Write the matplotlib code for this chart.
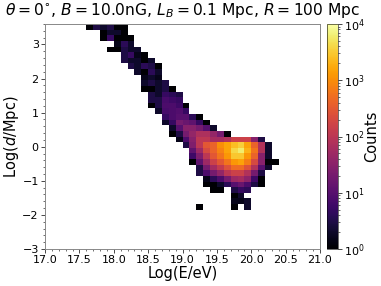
import numpy as np
import matplotlib
matplotlib.use("Agg")
import matplotlib.pyplot as plt
from matplotlib.colors import LogNorm
from matplotlib.ticker import AutoMinorLocator, LogLocator, NullFormatter

# Histogram rows, top of the plot first: (first energy bin, counts)
row_00 = (6, [1, 3, 2, 3, 1, 1])
row_01 = (8, [1, 2, 2, 1])
row_02 = (8, [1, 5, 1, 1, 1])
row_03 = (10, [1.5, 4, 2])
row_04 = (9, [1, 1, 3, 2, 2])
row_05 = (11, [3, 5, 1.5, 1])
row_06 = (11, [3, 2, 2, 1, 2])
row_07 = (12, [3, 2, 4, 3, 1])
row_08 = (13, [2, 1, 4, 2])
row_09 = (14, [1.5, 2, 1.5])
row_10 = (14, [2, 3, 2, 3])
row_11 = (14, [1, 1, 2, 3, 1])
row_12 = (15, [3, 2, 5, 4, 3])
row_13 = (15, [3, 3, 7, 6, 5])
row_14 = (15, [1, 3, 8, 8, 6, 1])
row_15 = (16, [2, 7, 8, 9, 5])
row_16 = (17, [5, 8, 10, 10, 4, 1])
row_17 = (17, [2, 5, 20, 15, 12, 5, 1])
row_18 = (18, [2, 10, 30, 30, 20, 10, 2])
row_19 = (18, [1, 3, 20, 40, 70, 70, 40, 20, 1])
row_20 = (19, [1.5, 8, 30, 100, 100, 60, 60, 80, 150, 150, 150, 30, 3])
row_21 = (20, [3, 25, 100, 300, 400, 1000, 1500, 2500, 3500, 1500, 400, 80, 2])
row_22 = (21, [12, 50, 200, 400, 800, 1500, 4000, 6000, 2000, 600, 80, 2])
row_23 = (21, [6, 25, 100, 300, 600, 1200, 3000, 3000, 1200, 400, 30, 2])
row_24 = (21, [1, 12, 50, 150, 300, 600, 1200, 1500, 700, 200, 30, 1, 1])
row_25 = (22, [3, 20, 60, 120, 250, 500, 500, 250, 80, 10, 2])
row_26 = (22, [3, 8, 20, 40, 100, 150, 150, 80, 20, 3])
row_27 = (23, [1.5, 4, 8, 20, 50, 60, 35, 6, 1])
row_28 = (23, [1, 1, 2, 4, 10, 15, 8, 3, 1])
row_29 = (24, [1, 1, 0, 3, 5, 4])
row_30 = (27, [1, 2])
row_31 = (27, [1.5, 1.5, 2])
row_32 = (22, [1, 0, 0, 0, 0, 1, 0, 2])
rows = [row_00, row_01, row_02, row_03, row_04, row_05, row_06, row_07, row_08,
        row_09, row_10, row_11, row_12, row_13, row_14, row_15, row_16, row_17,
        row_18, row_19, row_20, row_21, row_22, row_23, row_24, row_25, row_26,
        row_27, row_28, row_29, row_30, row_31, row_32]

x_ticks = [17.0, 17.5, 18.0, 18.5, 19.0, 19.5, 20.0, 20.5, 21.0]
y_ticks = [-3, -2, -1, 0, 1, 2, 3]
title = r"$\theta=0^{\circ}$, $B=10.0$nG, $L_B=0.1$ Mpc, $R=100$ Mpc"

n_bins = 40
x_edges = np.linspace(17.0, 21.0, n_bins + 1)
y_edges = np.linspace(-3.0, 3.6, n_bins + 1)
counts = np.zeros((n_bins, n_bins))
for r, (start, vals) in enumerate(rows):
    counts[n_bins - 1 - r, start:start + len(vals)] = vals
counts = np.ma.masked_less_equal(counts, 0)

W, H = 381, 286
fig = plt.figure(figsize=(W / 100, H / 100), dpi=100)
ax = fig.add_axes([45 / W, 1 - 249 / H, 275 / W, 225 / H])
mesh = ax.pcolormesh(x_edges, y_edges, counts, cmap="inferno",
                     norm=LogNorm(vmin=1, vmax=1e4))
ax.set_xlim(17, 21)
ax.set_ylim(-3, 3.6)
ax.set_xticks(x_ticks)
ax.set_xticklabels([f"{v:.1f}" for v in x_ticks])
ax.set_yticks(y_ticks)
ax.xaxis.set_minor_locator(AutoMinorLocator(5))
ax.yaxis.set_minor_locator(AutoMinorLocator(5))
ax.tick_params(which="major", length=3, width=0.5, labelsize=8, pad=1.5)
ax.tick_params(which="minor", length=1.6, width=0.4)
for s in ax.spines.values():
    s.set_linewidth(0.7)
    s.set_color("#888888")
ax.set_xlabel("Log(E/eV)", fontsize=10.5, labelpad=0.5)
ax.set_ylabel("Log($d$/Mpc)", fontsize=10.5, labelpad=1)
fig.text(182.5 / W, 1 - 14.5 / H, title, fontsize=11.2, ha="center", va="baseline")

cax = fig.add_axes([327 / W, 1 - 249 / H, 11 / W, 225 / H])
cb = fig.colorbar(mesh, cax=cax)
cb.outline.set_linewidth(0.4)
cb.ax.yaxis.set_minor_locator(LogLocator(base=10, subs=np.arange(2, 10) * 0.1, numticks=20))
cb.ax.yaxis.set_minor_formatter(NullFormatter())
cb.ax.tick_params(which="major", length=3, width=0.5, labelsize=8, pad=1.5)
cb.ax.tick_params(which="minor", length=1.6, width=0.4)
cb.set_label("Counts", fontsize=10.5, labelpad=-1)
fig.savefig("out.png", dpi=100)
